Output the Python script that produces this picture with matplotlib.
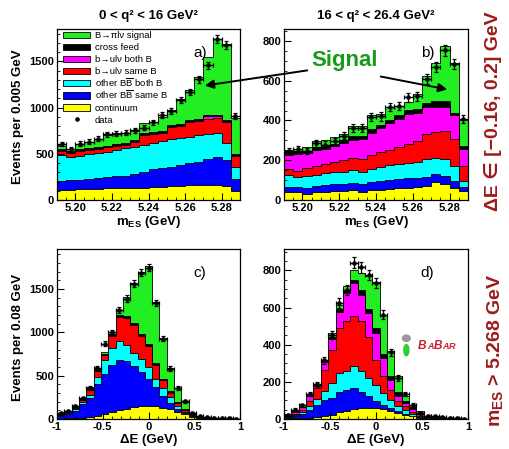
import numpy as np
import matplotlib
matplotlib.use("Agg")
import matplotlib.pyplot as plt
from matplotlib.patches import FancyArrowPatch, Ellipse, Rectangle
from matplotlib.offsetbox import TextArea, HPacker, AnnotationBbox
from matplotlib.ticker import MultipleLocator, FuncFormatter

plt.rcParams['font.family'] = ['Liberation Sans', 'DejaVu Sans']
plt.rcParams['mathtext.default'] = 'regular'

# ---- binning ----
mes_range = (5.19, 5.29)
mes_nbins = 20
de_range = (-1.0, 1.0)
de_nbins = 25

# stack order bottom -> top
comp_labels = ["continuum", r"other B$\overline{B}$ same B", r"other B$\overline{B}$ both B",
               "b→ulν same B", "b→ulν both B", "cross feed", "B→πlν signal"]
comp_colors = ["#ffff00", "#0000ff", "#00ffff", "#ff0000", "#ff00ff", "#000000", "#22ee22"]

# stack levels (cumulative events)
# a) mES, 0 < q2 < 16
a_continuum = [112, 112, 115, 118, 120, 125, 128, 130, 133, 135, 140, 145, 148, 152, 158, 162, 165, 165, 155, 95]
a_bb_same = [210, 215, 220, 228, 235, 245, 255, 265, 280, 300, 330, 345, 360, 380, 395, 410, 440, 465, 435, 232]
a_bb_both = [485, 465, 480, 495, 505, 520, 540, 560, 575, 600, 620, 640, 655, 670, 680, 700, 715, 720, 612, 360]
a_bu_same = [535, 510, 530, 545, 555, 570, 585, 600, 630, 700, 710, 720, 790, 800, 840, 850, 880, 885, 840, 479]
a_bu_both = [543, 518, 538, 553, 563, 578, 593, 608, 640, 712, 722, 732, 805, 815, 858, 870, 905, 905, 855, 489]
a_xfeed = [553, 528, 548, 563, 573, 588, 603, 618, 650, 722, 732, 742, 815, 825, 868, 880, 915, 915, 865, 499]
a_signal = [580, 550, 605, 625, 655, 700, 720, 727, 745, 830, 840, 900, 972, 1091, 1188, 1332, 1548, 1746, 1692, 890]
a_data = [604, 550, 611, 630, 665, 709, 719, 727, 755, 780, 839, 918, 961, 1080, 1170, 1307, 1458, 1739, 1674, 911]

# b) mES, 16 < q2 < 26.4
b_continuum = [38, 38, 32, 42, 42, 45, 45, 48, 42, 52, 52, 55, 58, 62, 65, 70, 90, 80, 60, 43]
b_bb_same = [65, 65, 60, 72, 75, 82, 82, 88, 80, 92, 95, 100, 105, 110, 112, 118, 130, 120, 95, 64]
b_bb_both = [127, 115, 120, 125, 135, 140, 142, 152, 142, 155, 165, 175, 180, 185, 190, 205, 212, 205, 173, 97]
b_bu_same = [156, 148, 160, 172, 180, 190, 200, 212, 205, 228, 240, 250, 265, 282, 299, 332, 341, 349, 307, 173]
b_bu_both = [228, 230, 235, 252, 258, 270, 288, 302, 308, 338, 360, 385, 405, 435, 440, 467, 467, 470, 425, 257]
b_xfeed = [240, 244, 248, 266, 270, 284, 302, 320, 324, 355, 378, 402, 425, 455, 460, 490, 500, 500, 440, 272]
b_signal = [252, 257, 265, 298, 302, 318, 332, 370, 370, 425, 433, 467, 475, 495, 534, 626, 690, 774, 690, 400]
b_data = [245, 254, 245, 285, 279, 296, 324, 361, 361, 416, 420, 467, 472, 517, 522, 610, 668, 752, 685, 408]

# c) dE, 0 < q2 < 16
c_continuum = [5, 8, 10, 15, 25, 40, 60, 80, 100, 120, 135, 145, 150, 145, 130, 110, 80, 55, 28, 14, 7, 4, 2, 1, 1]
c_bb_same = [40, 55, 95, 170, 240, 405, 520, 620, 680, 670, 615, 540, 460, 370, 270, 185, 115, 68, 35, 17, 9, 6, 4, 2, 1]
c_bb_both = [45, 65, 110, 200, 280, 480, 680, 820, 895, 850, 765, 690, 605, 465, 360, 255, 155, 85, 40, 20, 10, 7, 4, 3, 2]
c_bu_same = [50, 75, 120, 220, 339, 550, 735, 960, 1180, 1165, 1085, 960, 840, 620, 450, 305, 190, 105, 50, 25, 14, 9, 6, 4, 3]
c_bu_both = [51, 76, 121, 222, 341, 553, 738, 964, 1185, 1170, 1090, 965, 845, 625, 454, 308, 193, 107, 51, 26, 15, 9, 6, 4, 3]
c_xfeed = [53, 79, 124, 227, 346, 561, 748, 976, 1200, 1185, 1105, 980, 860, 640, 466, 318, 201, 112, 54, 28, 16, 10, 7, 4, 3]
c_signal = [65, 90, 140, 230, 365, 580, 775, 1005, 1255, 1405, 1565, 1695, 1760, 1350, 930, 585, 360, 200, 72, 30, 20, 12, 8, 6, 4]
c_data = [69, 96, 146, 243, 358, 590, 867, 1000, 1252, 1387, 1561, 1688, 1746, 1341, 925, 582, 358, 204, 69, 31, 23, 12, 10, 8, 5]

# d) dE, 16 < q2 < 26.4
d_continuum = [2, 3, 5, 8, 12, 17, 23, 35, 45, 55, 58, 60, 58, 52, 42, 32, 23, 14, 7, 3, 2, 1, 0, 0, 0]
d_bb_same = [7, 15, 28, 50, 75, 100, 115, 148, 158, 167, 148, 122, 95, 77, 59, 41, 28, 16, 8, 4, 2, 1, 1, 0, 0]
d_bb_both = [10, 20, 40, 70, 105, 150, 194, 247, 258, 283, 258, 220, 184, 140, 104, 68, 50, 28, 12, 6, 3, 2, 1, 1, 0]
d_bu_same = [12, 25, 50, 95, 165, 265, 373, 490, 525, 555, 525, 444, 319, 229, 158, 95, 68, 40, 18, 8, 5, 3, 2, 1, 1]
d_bu_both = [15, 35, 62, 125, 180, 305, 430, 578, 677, 731, 668, 570, 462, 328, 211, 122, 86, 55, 25, 10, 6, 4, 2, 1, 1]
d_xfeed = [18, 40, 67, 130, 185, 313, 440, 590, 690, 747, 695, 591, 490, 351, 233, 148, 95, 62, 29, 13, 8, 5, 3, 2, 1]
d_signal = [25, 45, 75, 135, 190, 320, 462, 615, 717, 803, 788, 771, 740, 561, 364, 229, 122, 77, 41, 18, 12, 8, 5, 3, 2]
d_data = [23, 50, 73, 134, 188, 315, 453, 624, 695, 842, 817, 776, 734, 561, 358, 220, 136, 77, 32, 18, 14, 11, 7, 4, 2]

title_lo = "0 < q² < 16 GeV²"
title_hi = "16 < q² < 26.4 GeV²"
dark_red = "#9b1b1b"

W, H = 509, 449
fig = plt.figure(figsize=(W / 100, H / 100), dpi=100)


def px_axes(x0, y0, x1, y1):
    return fig.add_axes([x0 / W, 1 - y1 / H, (x1 - x0) / W, (y1 - y0) / H])


def draw_panel(ax, rng, nbins, levels, data):
    edges = np.linspace(rng[0], rng[1], nbins + 1)
    # draw from the top level down, ROOT-stack style
    for lev, col in zip(levels[::-1], comp_colors[::-1]):
        ax.stairs(lev, edges, baseline=0, fill=True, facecolor=col,
                  edgecolor='k', linewidth=0.6)
    centers = 0.5 * (edges[1:] + edges[:-1])
    data = np.asarray(data, dtype=float)
    ax.errorbar(centers, data, xerr=0.5 * (edges[1] - edges[0]), yerr=np.sqrt(data),
                fmt='o', ms=2.3, color='k', elinewidth=0.9, capsize=1.2, capthick=0.9)
    ax.set_xlim(rng)
    ax.tick_params(which='both', direction='in', top=False, right=False, labelsize=8, pad=2)
    ax.tick_params(which='major', length=5)
    ax.tick_params(which='minor', length=2.5)
    for s in ax.spines.values():
        s.set_linewidth(0.9)


ax_a = px_axes(57, 29, 240, 200)
ax_b = px_axes(284, 29, 468, 200)
ax_c = px_axes(57, 249, 240, 419)
ax_d = px_axes(284, 249, 468, 419)

panels = [
    (ax_a, mes_range, mes_nbins, [a_continuum, a_bb_same, a_bb_both, a_bu_same, a_bu_both, a_xfeed, a_signal], a_data, 1850),
    (ax_b, mes_range, mes_nbins, [b_continuum, b_bb_same, b_bb_both, b_bu_same, b_bu_both, b_xfeed, b_signal], b_data, 860),
    (ax_c, de_range, de_nbins, [c_continuum, c_bb_same, c_bb_both, c_bu_same, c_bu_both, c_xfeed, c_signal], c_data, 1960),
    (ax_d, de_range, de_nbins, [d_continuum, d_bb_same, d_bb_both, d_bu_same, d_bu_both, d_xfeed, d_signal], d_data, 915),
]
for ax, rng, nb, levs, dat, ymax in panels:
    ax.set_ylim(0, ymax)
    draw_panel(ax, rng, nb, levs, dat)

for ax in (ax_a, ax_b):
    ax.xaxis.set_major_locator(MultipleLocator(0.02))
    ax.xaxis.set_minor_locator(MultipleLocator(0.005))
    ax.xaxis.set_major_formatter(FuncFormatter(lambda v, p: f"{v:.2f}"))
    ax.set_xlabel("m$_{ES}$ (GeV)", fontsize=9.5, fontweight='bold')
    ax.xaxis.label.set_va('center')
    ax.xaxis.set_label_coords(0.5, -0.13)
for ax in (ax_c, ax_d):
    ax.xaxis.set_major_locator(MultipleLocator(0.5))
    ax.xaxis.set_minor_locator(MultipleLocator(0.1))
    ax.xaxis.set_major_formatter(FuncFormatter(lambda v, p: f"{v:g}"))
    ax.set_xlabel("ΔE (GeV)", fontsize=9.5, fontweight='bold')
    ax.xaxis.label.set_va('center')
    ax.xaxis.set_label_coords(0.5, -0.125)

ax_a.yaxis.set_major_locator(MultipleLocator(500))
ax_a.yaxis.set_minor_locator(MultipleLocator(100))
ax_c.yaxis.set_major_locator(MultipleLocator(500))
ax_c.yaxis.set_minor_locator(MultipleLocator(100))
ax_b.yaxis.set_major_locator(MultipleLocator(200))
ax_b.yaxis.set_minor_locator(MultipleLocator(50))
ax_d.yaxis.set_major_locator(MultipleLocator(200))
ax_d.yaxis.set_minor_locator(MultipleLocator(50))
for ax in (ax_a, ax_b, ax_c, ax_d):
    for lab in ax.get_xticklabels() + ax.get_yticklabels():
        lab.set_fontweight('bold')

ax_a.set_ylabel("Events per 0.005 GeV", fontsize=9.5, fontweight='bold')
ax_c.set_ylabel("Events per 0.08 GeV", fontsize=9.5, fontweight='bold')
for ax in (ax_a, ax_c):
    ax.yaxis.label.set_va('center')
ax_a.yaxis.set_label_coords(-0.213, 0.49)
ax_c.yaxis.set_label_coords(-0.213, 0.48)

ax_a.set_title(title_lo, fontsize=9.5, fontweight='bold', pad=7)
ax_b.set_title(title_hi, fontsize=9.5, fontweight='bold', pad=7)

for ax, lab in zip((ax_a, ax_b, ax_c, ax_d), ("a)", "b)", "c)", "d)")):
    ax.text(0.78, 0.86, lab, transform=ax.transAxes, fontsize=11, ha='center', va='center')

# legend, laid out by hand so every row has the same height
leg_labels = comp_labels[::-1] + ["data"]
leg_colors = comp_colors[::-1]
row0, row_step = 0.965, 0.0705
for i, lab in enumerate(leg_labels):
    yc = row0 - i * row_step
    if i < len(leg_colors):
        ax_a.add_patch(Rectangle((0.033, yc - 0.019), 0.147, 0.038, transform=ax_a.transAxes,
                                 facecolor=leg_colors[i], edgecolor='k', linewidth=0.6, zorder=5))
    else:
        ax_a.plot([0.107], [yc], 'o', color='k', ms=2.3, transform=ax_a.transAxes, zorder=5)
    ax_a.text(0.207, yc - 0.019, lab, transform=ax_a.transAxes, fontsize=6.8,
              ha='left', va='baseline', zorder=5)

# Signal annotation
fig.text(345 / W, 1 - 60 / H, "Signal", color="#169c16", fontsize=16, fontweight='bold',
         ha='center', va='center')
for start, tip in (((310, 70), (202, 86)), ((378, 76), (450, 90))):
    arr = FancyArrowPatch((start[0] / W, 1 - start[1] / H), (tip[0] / W, 1 - tip[1] / H),
                          transform=fig.transFigure, arrowstyle='-|>', mutation_scale=13,
                          color='k', linewidth=1.4)
    fig.add_artist(arr)

# side labels
fig.text(493 / W, 1 - 111 / H, "ΔE ∈ [−0.16, 0.2] GeV", rotation=90, color=dark_red,
         fontsize=14, fontweight='bold', ha='center', va='center')
fig.text(495 / W, 1 - 350 / H, "m$_{ES}$ > 5.268 GeV", rotation=90, color=dark_red,
         fontsize=14, fontweight='bold', ha='center', va='center')

# BaBar logo
babar_red = "#cc1f2a"
parts = [TextArea(t, textprops=dict(color=babar_red, fontsize=s, fontweight='bold', fontstyle='italic'))
         for t, s in (("B", 8.5), ("A", 6.5), ("B", 8.5), ("A", 6.5), ("R", 6.5))]
logo = HPacker(children=parts, align='baseline', pad=0, sep=0.2)
ax_d.add_artist(AnnotationBbox(logo, (0.83, 0.43), xycoords='axes fraction', frameon=False))
ax_d.add_patch(Ellipse((0.665, 0.405), 0.035, 0.075, transform=ax_d.transAxes,
                       facecolor="#33cc33", edgecolor='none'))
ax_d.add_patch(Ellipse((0.665, 0.475), 0.05, 0.045, transform=ax_d.transAxes,
                       facecolor="#999999", edgecolor='none'))

fig.savefig("out.png", dpi=100)
